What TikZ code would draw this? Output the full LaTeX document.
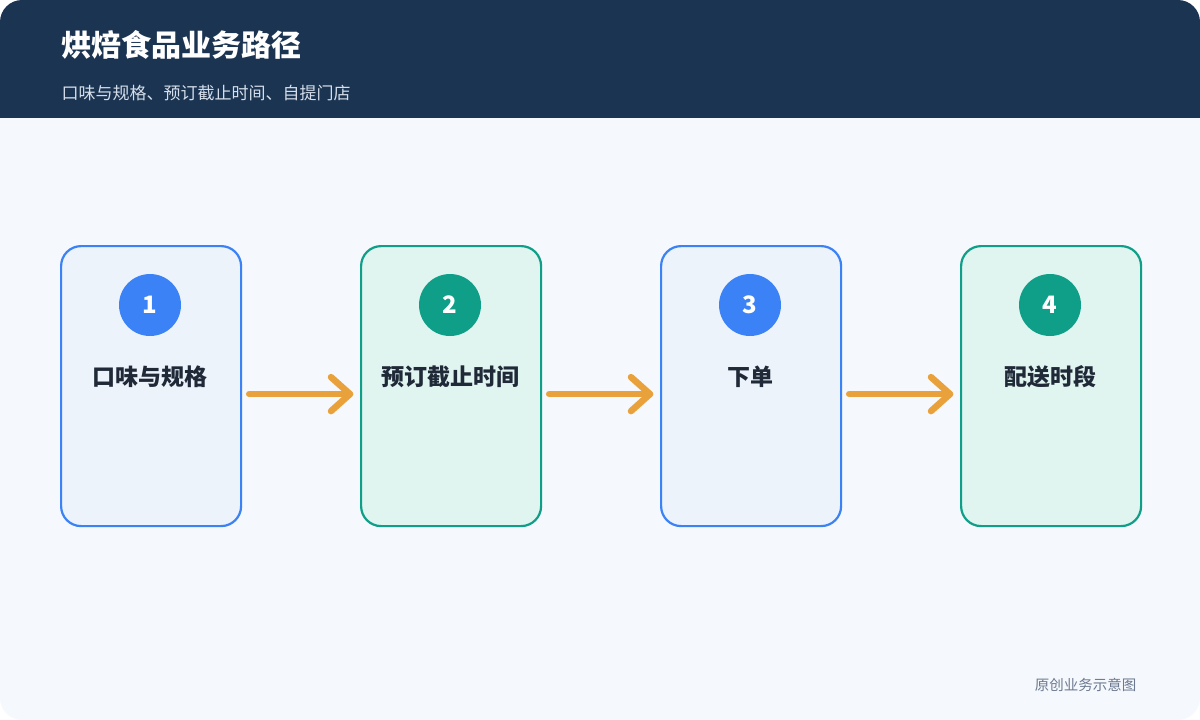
\documentclass[tikz,border=0pt]{standalone}
\usepackage{fontspec}
\setmainfont{Noto Sans CJK SC}
\definecolor{hdr}{HTML}{1B3452}
\definecolor{bg}{HTML}{F5F8FC}
\definecolor{bl}{HTML}{3B82F6}
\definecolor{blf}{HTML}{EDF3FA}
\definecolor{gr}{HTML}{0F9F89}
\definecolor{grf}{HTML}{E0F4F0}
\definecolor{org}{HTML}{E9A23B}
\definecolor{txt}{HTML}{1F2937}
\definecolor{sub}{HTML}{D5DEEA}
\definecolor{foot}{HTML}{6B7A90}
\begin{document}
\begin{tikzpicture}[x=1pt,y=-1pt,
  box/.style={draw,line width=2.2pt,rounded corners=20pt,minimum width=180pt,minimum height=280pt,anchor=north west},
  bbox/.style={box,draw=bl,fill=blf},
  gbox/.style={box,draw=gr,fill=grf},
  num/.style={circle,minimum size=62pt,inner sep=0,text=white,font=\bfseries\fontsize{24}{24}\selectfont},
  lab/.style={text=txt,font=\bfseries\fontsize{23}{23}\selectfont},
  arr/.style={draw=org,line width=6.5pt,line cap=round,line join=round}]
\useasboundingbox (0,0) rectangle (1200,720);
\fill[bg,rounded corners=22pt] (0,0) rectangle (1200,720);
\fill[hdr,rounded corners=22pt] (0,0) rectangle (1200,140);
\fill[bg] (0,118) rectangle (1200,150);
\node[anchor=west,text=white,font=\bfseries\fontsize{30}{30}\selectfont] (title) at (58,45) {烘焙食品业务路径};
\node[anchor=west,text=sub,font=\fontsize{17}{17}\selectfont] (subt) at (58,93) {口味与规格、预订截止时间、自提门店};
\foreach \i/\x/\s/\c/\t in {1/60/bbox/bl/口味与规格,2/360/gbox/gr/预订截止时间,3/660/bbox/bl/下单/入驻,4/960/gbox/gr/配送时段}{
  \node[\s] (b\i) at (\x,245) {};
  \node[num,fill=\c] (n\i) at (\x+90,305) {\i};
  \node[lab] (l\i) at (\x+90,377) {\t};
}
\foreach \a/\b in {1/2,2/3,3/4}{
  \coordinate (s\a) at ([xshift=7pt,yshift=-8pt]b\a.east);
  \coordinate (e\a) at ([xshift=-10pt,yshift=-8pt]b\b.west);
  \draw[arr] (s\a) -- (e\a);
  \draw[arr] ([xshift=-19pt,yshift=-17pt]e\a) -- (e\a) -- ([xshift=-19pt,yshift=17pt]e\a);
}
\node[anchor=east,text=foot,font=\fontsize{14.5}{15}\selectfont] (ft) at (1140,685) {原创业务示意图};
\end{tikzpicture}
\end{document}
